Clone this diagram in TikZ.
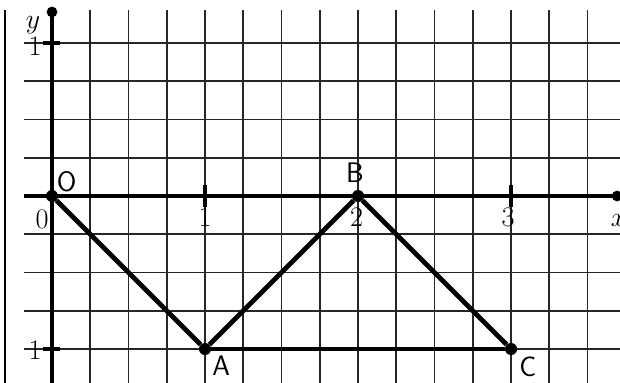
\documentclass[tikz,border=0pt]{standalone}
\usepackage{tikz}
\usetikzlibrary{positioning,calc}
\tikzset{
  gridline/.style={draw=black!85, line width=1.3pt},
  frameline/.style={draw=black, line width=1pt},
  axisline/.style={line width=3.6pt},
  segline/.style={line width=3.6pt},
  tickmark/.style={line width=3pt},
  ptdot/.style={circle, fill, inner sep=0pt, minimum size=9pt},
  enddot/.style={circle, fill, inner sep=0pt, minimum size=8pt},
  ptlabel/.style={font=\fontsize{21}{22}\selectfont\sffamily, inner sep=0pt},
  numlabel/.style={font=\fontsize{21}{22}\selectfont, inner sep=0pt}
}

\begin{document}
\begin{tikzpicture}[x=4cm,y=4cm]
  \useasboundingbox (-0.34,-1.222) rectangle (3.712,1.281);
  % grid
  \foreach \i in {1,...,14}
    \draw[gridline] (\i/4,-1.24) -- (\i/4,1.216);
  \foreach \j in {-4,...,4}
    \draw[gridline] (-0.183,\j/4) -- (3.73,\j/4);
  \draw[frameline] (-0.307,1.216) -- (-0.307,-1.24);
  % axes
  \node[enddot] (ytop) at (0,1.203) {};
  \node[enddot] (xend) at (3.693,0) {};
  \coordinate (ybot) at (0,-1.24);
  \coordinate (xbeg) at (-0.183,0);
  \draw[axisline] (ybot) -- (ytop.center);
  \draw[axisline] (xbeg) -- (xend.center);
  \foreach \k in {1,3}
    \draw[tickmark] (\k,-0.07) -- (\k,0.07);
  \foreach \k in {1,-1}
    \draw[tickmark] (-0.06,\k) -- (0.05,\k);
  % points
  \node[ptdot] (O) at (0,0) {};
  \node[ptdot] (A) at (1,-1) {};
  \node[ptdot] (B) at (2,0) {};
  \node[ptdot] (C) at (3,-1) {};
  \draw[segline] (O) -- (A);
  \draw[segline] (A) -- (B);
  \draw[segline] (B) -- (C);
  \draw[segline] (A) -- (C);
  % labels
  \node[ptlabel] (lO) at (0.095,0.092) {O};
  \node[ptlabel] (lA) at (1.105,-1.111) {A};
  \node[ptlabel] (lB) at (1.98,0.15) {B};
  \node[ptlabel] (lC) at (3.11,-1.118) {C};
  \node[numlabel] (n0) at (-0.065,-0.15) {0};
  \node[numlabel] (n1) at (1,-0.14) {1};
  \node[numlabel] (n2) at (1.99,-0.14) {2};
  \node[numlabel] (n3) at (2.98,-0.14) {3};
  \node[numlabel, anchor=west] (lx) at (3.65,-0.16) {$x$};
  \node[numlabel] (ly) at (-0.124,1.118) {$y$};
  \node[numlabel] (m1) at (-0.111,0.98) {1};
  \node[numlabel] (m2) at (-0.111,-1.007) {1};
\end{tikzpicture}
\end{document}
